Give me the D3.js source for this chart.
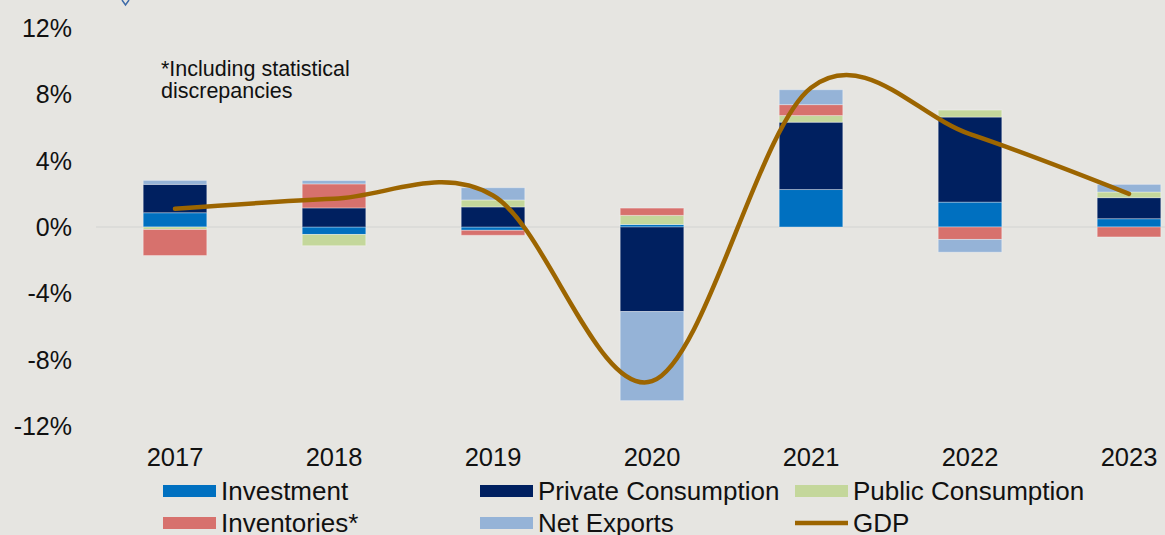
<!DOCTYPE html>
<html>
<head>
<meta charset="utf-8">
<script src="https://cdn.jsdelivr.net/npm/d3@7"></script>
<style>
html,body{margin:0;padding:0;background:#e6e5e1;overflow:hidden;}
svg{display:block;font-family:"Liberation Sans",Arial,sans-serif;}
</style>
</head>
<body>
<svg id="chart" width="1165" height="535"></svg>
<script>
// ---- data ----
const years = ["2017","2018","2019","2020","2021","2022","2023"];
const investment   = [0.86, -0.45, -0.2,  0.15, 2.26, 1.50, 0.50];
const privateCons  = [1.71,  1.15,  1.21, -5.10, 4.06, 5.13, 1.27];
const publicCons   = [-0.15, -0.68, 0.42,  0.55, 0.40, 0.42, 0.34];
const inventories  = [-1.57, 1.45, -0.30,  0.44, 0.66, -0.75, -0.60];
const netExports   = [0.24,  0.20,  0.74, -5.37, 0.90, -0.77, 0.46];
const gdp          = [1.1, 1.7, 1.9, -9.3, 8.4, 5.6, 2.0];
const yTicks = [12, 8, 4, 0, -4, -8, -12];
const seriesNames = ["Investment","Private Consumption","Public Consumption","Inventories*","Net Exports","GDP"];
const note = ["*Including statistical", "discrepancies"];

const keys = ["investment","privateCons","publicCons","inventories","netExports"];
const colors = {investment:"#0070c0", privateCons:"#002060", publicCons:"#c4d79b", inventories:"#d7716d", netExports:"#95b3d7"};
const gdpColor = "#9c6500";

const rows = years.map((y,i)=>({year:y, investment:investment[i], privateCons:privateCons[i],
  publicCons:publicCons[i], inventories:inventories[i], netExports:netExports[i]}));

const svg = d3.select("#chart");
const x = d3.scaleBand().domain(years).range([95.5, 1208.5]).paddingInner(0.6).paddingOuter(0.3);
const y = d3.scaleLinear().domain([-12, 12]).range([426, 28]);

// zero line
svg.append("line").attr("x1", 96).attr("x2", 1165).attr("y1", y(0)).attr("y2", y(0))
  .attr("stroke", "#d8d8d6").attr("stroke-width", 1.5);

// bars
const stack = d3.stack().keys(keys).offset(d3.stackOffsetDiverging);
const stacked = stack(rows);
svg.append("g").selectAll("g").data(stacked).join("g")
  .attr("fill", d => colors[d.key])
  .selectAll("rect").data(d => d).join("rect")
  .attr("x", d => x(d.data.year))
  .attr("width", x.bandwidth())
  .attr("y", d => y(Math.max(d[0], d[1])))
  .attr("height", d => Math.abs(y(d[0]) - y(d[1])))
  .attr("stroke", "rgba(255,255,255,0.35)").attr("stroke-width", 1);

// GDP line
const line = d3.line().x((d,i)=>x(years[i]) + x.bandwidth()/2).y(d=>y(d)).curve(d3.curveCardinal.tension(0));
svg.append("path").datum(gdp).attr("d", line).attr("fill","none")
  .attr("stroke", gdpColor).attr("stroke-width", 4.5).attr("stroke-linecap","round");

// y axis labels
svg.append("g").selectAll("text").data(yTicks).join("text")
  .attr("x", 72).attr("y", d => y(d)).attr("dy", "0.36em")
  .attr("text-anchor", "end").attr("font-size", 25).attr("fill", "#111")
  .text(d => d + "%");

// x axis labels
svg.append("g").selectAll("text").data(years).join("text")
  .attr("x", d => x(d) + x.bandwidth()/2).attr("y", 466)
  .attr("text-anchor", "middle").attr("font-size", 25.5).attr("fill", "#111")
  .text(d => d);

// note
svg.append("g").selectAll("text").data(note).join("text")
  .attr("x", 161).attr("y", (d,i)=>76 + i*22)
  .attr("font-size", 21.5).attr("fill", "#111").text(d=>d);

// legend
const legendPos = [[163,491],[480,491],[795,491],[163,523],[480,523],[795,523]];
const legendKeys = ["investment","privateCons","publicCons","inventories","netExports","gdp"];
const lg = svg.append("g");
legendKeys.forEach((k,i)=>{
  const [lx,ly] = legendPos[i];
  if (k === "gdp") {
    lg.append("line").attr("x1", lx).attr("x2", lx+53).attr("y1", ly).attr("y2", ly)
      .attr("stroke", gdpColor).attr("stroke-width", 4.5);
  } else {
    lg.append("rect").attr("x", lx).attr("y", ly-6).attr("width", 53).attr("height", 12).attr("fill", colors[k]);
  }
  lg.append("text").attr("x", lx+58).attr("y", ly).attr("dy","0.36em")
    .attr("font-size", 26).attr("fill","#111").text(seriesNames[i]);
});

// small cropped marker at top
svg.append("path").attr("d","M122,0 L125.5,5 L129,0").attr("fill","none").attr("stroke","#3d6aa8").attr("stroke-width",1.5);
</script>
</body>
</html>
